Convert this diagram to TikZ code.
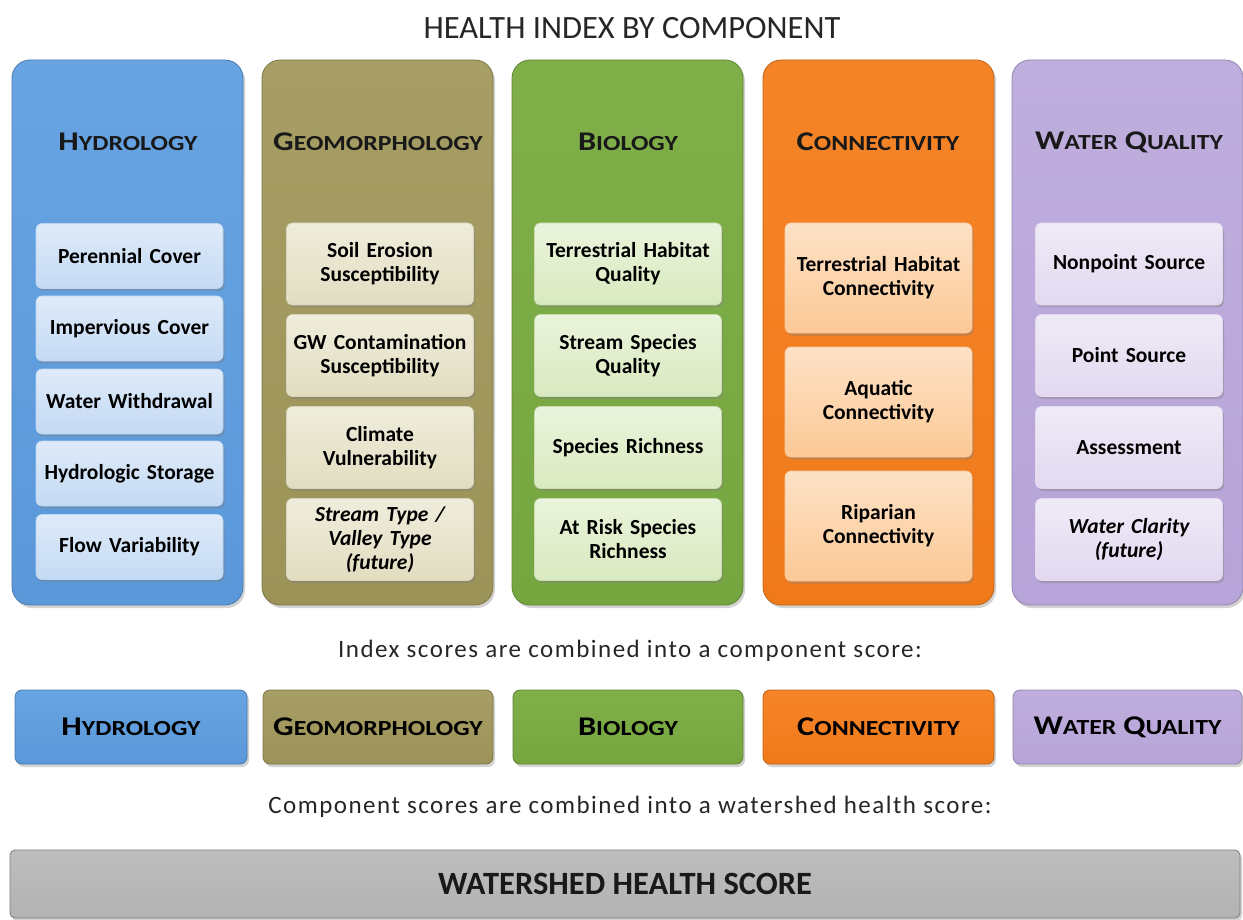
\documentclass[tikz,border=0pt]{standalone}
\usepackage{fontspec}
\setmainfont{Carlito}
\newfontfamily\spaced[LetterSpace=6]{Carlito}
\newfontfamily\headfont[FakeStretch=1.2]{Carlito}
\usetikzlibrary{shadows}
\definecolor{hydro}{HTML}{5A98DA}
\definecolor{hydrotop}{HTML}{68A4E2}
\definecolor{hydroin}{HTML}{C4DAF4}
\definecolor{geo}{HTML}{9C9359}
\definecolor{geotop}{HTML}{A69E64}
\definecolor{geoin}{HTML}{E2DDC0}
\definecolor{bio}{HTML}{76A640}
\definecolor{biotop}{HTML}{80AF4A}
\definecolor{bioin}{HTML}{D9EABF}
\definecolor{conn}{HTML}{F07A1A}
\definecolor{conntop}{HTML}{F58428}
\definecolor{connin}{HTML}{FCC996}
\definecolor{wq}{HTML}{B7A4D8}
\definecolor{wqtop}{HTML}{BEAEDD}
\definecolor{wqin}{HTML}{E2D9F0}
\definecolor{gray1}{HTML}{B2B2B2}
\newcommand{\myhead}[2]{{\headfont\bfseries\fontsize{27}{27}\selectfont #1}{\headfont\bfseries\fontsize{21.5}{22}\selectfont #2}}
\newcommand{\wqhead}{\myhead{W}{ATER}\hspace{7pt}\myhead{Q}{UALITY}}
\tikzset{
  column/.style={rounded corners=18pt, draw=#1!80!black, line width=0.8pt,
    top color=#1top, bottom color=#1, minimum width=231pt, minimum height=545pt,
    drop shadow={shadow xshift=2pt, shadow yshift=-3pt, opacity=0.35}},
  inbox/.style={rounded corners=6pt, draw=white!60!#1, line width=0.6pt,
    top color=white!45!#1in, bottom color=#1in, minimum width=187pt, inner xsep=1pt,
    align=center, font=\fontsize{21.5}{24}\selectfont\bfseries, text width=185pt,
    drop shadow={shadow xshift=1.5pt, shadow yshift=-2.5pt, opacity=0.4}},
  smallbox/.style={rounded corners=7pt, draw=#1!80!black, line width=0.8pt,
    top color=#1top, bottom color=#1, minimum height=74pt,
    drop shadow={shadow xshift=2pt, shadow yshift=-3pt, opacity=0.35}},
  caption/.style={font=\spaced\fontsize{25}{28}\selectfont, text=black!85},
  headtext/.style={text=black!90}
}
\begin{document}
\begin{tikzpicture}[x=1pt,y=-1pt]
\useasboundingbox (0,0) rectangle (1243,920);
\node[text=black!85, font=\fontsize{32.5}{34}\selectfont] (title) at (632,28) {HEALTH INDEX BY COMPONENT};
% columns
\node[column=hydro] (c1) at (127.5,332.5) {};
\node[column=geo] (c2) at (377.5,332.5) {};
\node[column=bio] (c3) at (627.5,332.5) {};
\node[column=conn] (c4) at (878.5,332.5) {};
\node[column=wq] (c5) at (1127.5,332.5) {};
\node[headtext] (h1) at (128,142) {\myhead{H}{YDROLOGY}};
\node[headtext] (h2) at (378,142) {\myhead{G}{EOMORPHOLOGY}};
\node[headtext] (h3) at (628,142) {\myhead{B}{IOLOGY}};
\node[headtext] (h4) at (878,142) {\myhead{C}{ONNECTIVITY}};
\node[headtext] (h5) at (1129,142) {\wqhead};
% hydrology
\node[inbox=hydro, minimum height=65pt] (a1) at (129.5,256) {Perennial Cover};
\node[inbox=hydro, minimum height=65pt] (a2) at (129.5,328.5) {Impervious Cover};
\node[inbox=hydro, minimum height=65pt] (a3) at (129.5,401.5) {Water Withdrawal};
\node[inbox=hydro, minimum height=65pt] (a4) at (129.5,473.5) {Hydrologic Storage};
\node[inbox=hydro, minimum height=65pt] (a5) at (129.5,547) {Flow Variability};
% geomorphology
\node[inbox=geo, minimum height=82pt] (b1) at (380,264) {Soil Erosion\\Susceptibility};
\node[inbox=geo, minimum height=82pt] (b2) at (380,355.5) {GW Contamination\\Susceptibility};
\node[inbox=geo, minimum height=82pt] (b3) at (380,447.5) {Climate\\Vulnerability};
\node[inbox=geo, minimum height=82pt, font=\fontsize{21.5}{24}\selectfont\bfseries\itshape] (b4) at (380,539.5) {Stream Type /\\Valley Type\\(future)};
% biology
\node[inbox=bio, minimum height=82pt] (d1) at (628,264) {Terrestrial Habitat\\Quality};
\node[inbox=bio, minimum height=82pt] (d2) at (628,355.5) {Stream Species\\Quality};
\node[inbox=bio, minimum height=82pt] (d3) at (628,447.5) {Species Richness};
\node[inbox=bio, minimum height=82pt] (d4) at (628,539.5) {At Risk Species\\Richness};
% connectivity
\node[inbox=conn, minimum height=110pt] (e1) at (878.5,278) {Terrestrial Habitat\\Connectivity};
\node[inbox=conn, minimum height=110pt] (e2) at (878.5,402) {Aquatic\\Connectivity};
\node[inbox=conn, minimum height=110pt] (e3) at (878.5,526) {Riparian\\Connectivity};
% water quality
\node[inbox=wq, minimum height=82pt] (f1) at (1129,264) {Nonpoint Source};
\node[inbox=wq, minimum height=82pt] (f2) at (1129,355.5) {Point Source};
\node[inbox=wq, minimum height=82pt] (f3) at (1129,447.5) {Assessment};
\node[inbox=wq, minimum height=82pt, font=\fontsize{21.5}{24}\selectfont\bfseries\itshape] (f4) at (1129,539.5) {Water Clarity\\(future)};
% captions
\node[caption] (cap1) at (630,651) {Index scores are combined into a component score:};
\node[smallbox=hydro, minimum width=232pt] (s1) at (131,727) {\myhead{H}{YDROLOGY}};
\node[smallbox=geo, minimum width=230pt] (s2) at (378,727) {\myhead{G}{EOMORPHOLOGY}};
\node[smallbox=bio, minimum width=230pt] (s3) at (628,727) {\myhead{B}{IOLOGY}};
\node[smallbox=conn, minimum width=231pt] (s4) at (878.5,727) {\myhead{C}{ONNECTIVITY}};
\node[smallbox=wq, minimum width=229pt] (s5) at (1127.5,727) {\wqhead};
\node[caption] (cap2) at (630,807) {Component scores are combined into a watershed health score:};
\node[rounded corners=5pt, draw=gray1!70!black, line width=0.8pt, top color=gray1!85!white, bottom color=gray1,
  minimum width=1230pt, minimum height=68pt, font=\fontsize{32.5}{34}\selectfont\bfseries, text=black!90,
  drop shadow={shadow xshift=2pt, shadow yshift=-3pt, opacity=0.35}] (w) at (625,884) {WATERSHED HEALTH SCORE};
\end{tikzpicture}
\end{document}
